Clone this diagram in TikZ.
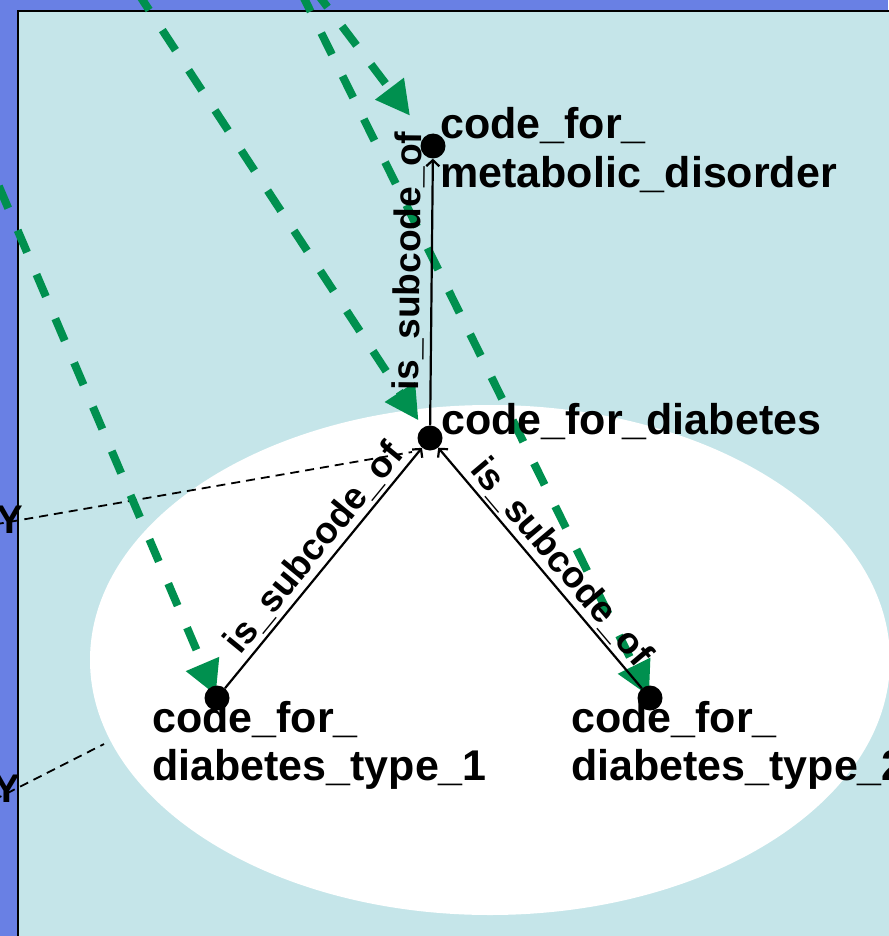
\documentclass[tikz,border=0pt]{standalone}
\usepackage{fontspec}
\setmainfont{Liberation Sans}
\usetikzlibrary{arrows.meta}
\definecolor{frameblue}{RGB}{105,128,228}
\definecolor{panelcyan}{RGB}{197,229,233}
\definecolor{linkgreen}{RGB}{0,144,79}
\pgfdeclarelayer{back}
\pgfdeclarelayer{links}
\pgfsetlayers{back,links,main}
\tikzset{
  dot/.style={circle, fill=black, minimum size=25pt, inner sep=0pt},
  codelabel/.style={anchor=base west, inner sep=0pt, align=left,
    font=\bfseries\fontsize{43}{48}\selectfont},
  subcode/.style={draw=black, line width=2.2pt,
    -{Straight Barb[length=6pt,width=13pt]}},
  rellabel/.style={sloped, inner sep=0pt, font=\bfseries\fontsize{37}{44}\selectfont},
  mapping/.style={draw=linkgreen, line width=8pt, dash pattern=on 24pt off 24pt,
    -{Triangle[length=34pt,width=34pt]}},
  xref/.style={draw=black, line width=1.8pt, dash pattern=on 9pt off 6pt},
  cutlabel/.style={anchor=base, inner sep=0pt, font=\bfseries\fontsize{40}{48}\selectfont},
}
\begin{document}
\begin{tikzpicture}[x=1pt,y=-1pt]
\useasboundingbox (0,0) rectangle (888,936);
\clip (0,0) rectangle (888,936);

% code hierarchy: one dot per code
\node[dot] (m)  at (433,146) {};
\node[dot] (d)  at (430,438) {};
\node[dot] (t1) at (217,698) {};
\node[dot] (t2) at (650,698) {};

% free ends of the incoming links
\coordinate (g1) at (313,-12);
\coordinate (g2) at (136,-10);
\coordinate (g3) at (300,-10);
\coordinate (g4) at (-20,142);
\coordinate (y1s) at (-20,527);
\coordinate (y1e) at (412,452);
\coordinate (y2s) at (-20,807);
\coordinate (y2e) at (104,744);

\begin{pgfonlayer}{back}
  \fill[frameblue] (0,0) rectangle (888,936);
  \filldraw[fill=panelcyan, draw=black, line width=2pt] (18,11) rectangle (910,960);
  \fill[white] (490,660) ellipse [x radius=400, y radius=255];
\end{pgfonlayer}

\begin{pgfonlayer}{links}
  \draw[xref] (y1s) -- (y1e);
  \draw[xref] (y2s) -- (y2e);
  \draw[mapping, shorten >=38pt] (g1) -- (m.center);
  \draw[mapping, shorten >=21pt] (g2) -- (d.center);
  \draw[mapping, shorten >=2pt] (g3) -- (t2.center);
  \draw[mapping, shorten >=3pt] (g4) -- (t1.center);
\end{pgfonlayer}

% is_subcode_of relations
\draw[subcode] (d) -- node[rellabel, above=6pt, pos=0.615] {is\_subcode\_of} (m);
\draw[subcode] (t1) -- node[rellabel, above=3pt, pos=0.53] {is\_subcode\_of} (d);
\draw[subcode] (t2) -- node[rellabel, above=3pt, pos=0.47] {is\_subcode\_of} (d);

% code names (base anchor sits on the last line)
\node[codelabel] (mlab)  at (440,187) {code\_for\_\\metabolic\_disorder};
\node[codelabel] (dlab)  at (441,434) {code\_for\_diabetes};
\node[codelabel] (t1lab) at (152,780) {code\_for\_\\diabetes\_type\_1};
\node[codelabel] (t2lab) at (571,780) {code\_for\_\\diabetes\_type\_2};

% labels cut by the left edge
\node[cutlabel] (ya) at (10,533) {Y};
\node[cutlabel] (yb) at (7,802) {Y};
\end{tikzpicture}
\end{document}
